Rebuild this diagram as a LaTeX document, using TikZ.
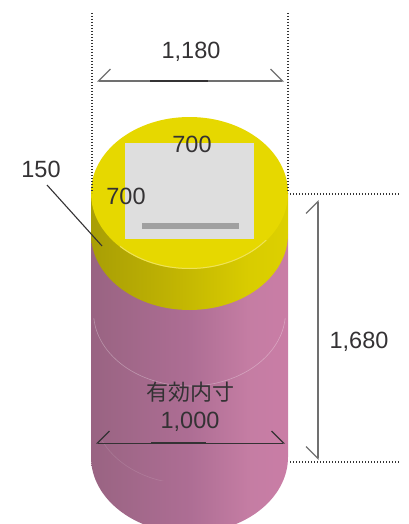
\documentclass[tikz,border=0pt]{standalone}
\usepackage{fontspec}
\setmainfont{Liberation Sans}
\newfontfamily\jpfont{Noto Sans CJK JP}
\usetikzlibrary{arrows.meta}
\definecolor{inkdark}{RGB}{52,50,52}
\definecolor{dimgray}{RGB}{112,112,112}
\definecolor{faceyellow}{RGB}{230,216,0}
\definecolor{panelgray}{RGB}{222,222,222}
\definecolor{bargray}{RGB}{160,160,160}
\definecolor{rimlight}{RGB}{238,226,90}
\pgfdeclarehorizontalshading{pinkbody}{100bp}{
  rgb(0bp)=(0.60,0.39,0.51);
  rgb(25bp)=(0.60,0.39,0.51);
  rgb(50bp)=(0.68,0.43,0.58);
  rgb(65bp)=(0.77,0.49,0.64);
  rgb(75bp)=(0.79,0.49,0.65);
  rgb(100bp)=(0.72,0.45,0.60)}
\pgfdeclarehorizontalshading{yellowband}{100bp}{
  rgb(0bp)=(0.66,0.62,0.02);
  rgb(25bp)=(0.66,0.62,0.02);
  rgb(45bp)=(0.75,0.70,0.01);
  rgb(65bp)=(0.85,0.80,0.0);
  rgb(78bp)=(0.87,0.82,0.0);
  rgb(100bp)=(0.76,0.71,0.02)}
\tikzset{
  x=1pt,y=-1pt,
  dimtext/.style={text=inkdark,font=\fontsize{23.5}{26}\selectfont,inner sep=0pt},
  jptext/.style={text=inkdark,font=\fontsize{22}{26}\selectfont\jpfont,inner sep=0pt},
  dotline/.style={draw=black!80,line width=1.1pt,dash pattern=on 1.3pt off 1.7pt},
  dimline/.style={draw=dimgray,line width=1.2pt},
  dimcore/.style={draw=inkdark,line width=1.3pt},
  barbleft/.style={{Straight Barb[harpoon,swap,length=12pt,width=24pt,line width=1.2pt]}-{Straight Barb[harpoon,length=12pt,width=24pt,line width=1.2pt]}},
  leader/.style={draw=inkdark,line width=1.1pt},
  faintarc/.style={draw=white,opacity=0.3,line width=0.6pt},
}
\begin{document}
\begin{tikzpicture}
\useasboundingbox (0,0) rectangle (408,524);
% pink body
\begin{scope}
  \clip (0,0) rectangle (408,524);
  \path[shading=pinkbody]
    (91,234) -- (91,457) arc[start angle=180,end angle=360,x radius=98.5,y radius=-76] -- (288,234) -- cycle;
  \begin{scope}
    \clip (91,318) rectangle (288,395);
    \draw[faintarc] (189.5,312) ellipse[x radius=96,y radius=74];
  \end{scope}
  \begin{scope}
    \clip (91,440) rectangle (170,480);
    \draw[faintarc,opacity=0.12] (189.5,410) ellipse[x radius=96,y radius=74];
  \end{scope}
\end{scope}
% yellow band
\path[shading=yellowband]
  (91,193) -- (91,234) arc[start angle=180,end angle=360,x radius=98.5,y radius=-76] -- (288,193) -- cycle;
% top face
\path[fill=faceyellow] (189.5,193) ellipse[x radius=98.5,y radius=76];
\begin{scope}
  \clip (120,240) rectangle (270,290);
  \draw[rimlight,line width=1pt] (189.5,193) ellipse[x radius=98,y radius=75.5];
\end{scope}
% panel and bar
\node[fill=panelgray,inner sep=0pt,minimum width=129pt,minimum height=96pt] (panel) at (189.5,191) {};
\node[fill=bargray,inner sep=0pt,minimum width=97pt,minimum height=6pt] (bar) at (190.5,226) {};
% extension lines
\coordinate (extLa) at (92,13);  \coordinate (extLb) at (92,193);
\coordinate (extRa) at (288,13); \coordinate (extRb) at (288,193);
\coordinate (extTa) at (290,194); \coordinate (extTb) at (400,194);
\coordinate (extBa) at (290,462); \coordinate (extBb) at (400,462);
\draw[dotline] (extLa) -- (extLb);
\draw[dotline] (extRa) -- (extRb);
\draw[dotline] (extTa) -- (extTb);
\draw[dotline] (extBa) -- (extBb);
% dimension 1,180
\coordinate (wa) at (97,81); \coordinate (wb) at (284,81);
\coordinate (wca) at (150,81); \coordinate (wcb) at (208,81);
\draw[dimline,barbleft] (wa) -- (wb);
\draw[dimcore] (wca) -- (wcb);
% dimension 1,000
\coordinate (ia) at (96,443); \coordinate (ib) at (285,443);
\coordinate (ica) at (151,443); \coordinate (icb) at (206,443);
\draw[draw=inkdark,line width=0.9pt,barbleft] (ia) -- (ib);
\draw[dimcore] (ica) -- (icb);
% dimension 1,680
\coordinate (ha) at (318,200); \coordinate (hb) at (318,460);
\draw[dimline,{Straight Barb[harpoon,length=12pt,width=24pt,line width=1.2pt]}-{Straight Barb[harpoon,swap,length=12pt,width=24pt,line width=1.2pt]}] (ha) -- (hb);
% labels
\node[dimtext] (l1180) at (191,51.5) {1,180};
\node[dimtext] (l700a) at (192,144.5) {700};
\node[dimtext] (l700b) at (126,196.5) {700};
\node[dimtext] (l150) at (41,169.5) {150};
\node[dimtext] (l1680) at (359,342) {1,680};
\node[jptext] (lyuko) at (190,392) {有効内寸};
\node[dimtext] (l1000) at (190,422) {1,000};
% leader
\coordinate (leadstart) at (47,185);
\coordinate (lead) at (102,246);
\draw[leader] (leadstart) -- (lead);
\end{tikzpicture}
\end{document}
